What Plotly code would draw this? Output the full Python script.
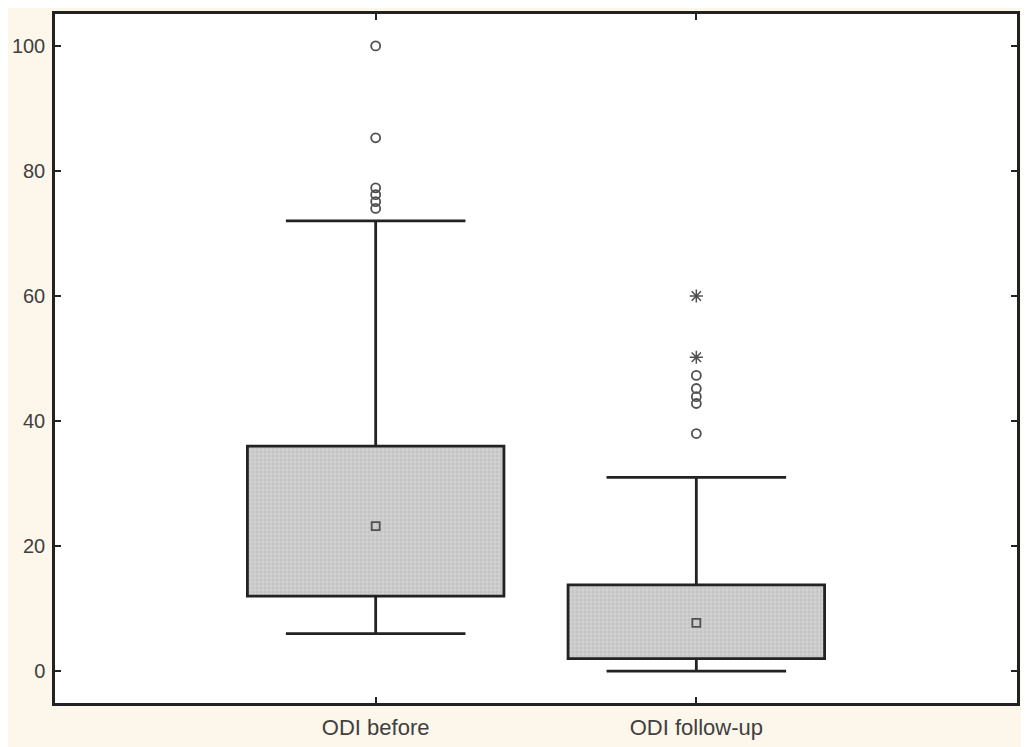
import plotly.graph_objects as go

categories = ["ODI before", "ODI follow-up"]
q1 = [12, 2]
median = [23.2, 7.7]
q3 = [36, 13.8]
lower_whisker = [6, 0]
upper_whisker = [72, 31]
outliers_before = [100, 85.3, 77.3, 76.2, 75.1, 74.0]
outliers_followup = [47.3, 45.2, 43.9, 42.8, 38.0]
extremes_followup = [60.0, 50.2]
y_ticks = [0, 20, 40, 60, 80, 100]

pos = [i + 1 for i in range(len(categories))]
cap_half = 0.28
line_col = "#222222"
font_fam = "Liberation Sans Narrow, Arial Narrow, Liberation Sans, Arial, sans-serif"

fig = go.Figure()

# boxes
fig.add_trace(go.Bar(
    x=pos, y=[b - a for a, b in zip(q1, q3)], base=q1, width=0.8,
    marker=dict(color="#d2d2d2",
                line=dict(color=line_col, width=2.8),
                pattern=dict(shape=".", bgcolor="#d0d0d0", fgcolor="#b8b8b8",
                             size=4, solidity=0.4)),
    showlegend=False, hoverinfo="skip"))

# whiskers
wx, wy = [], []
for p, a, b, lo, hi in zip(pos, q1, q3, lower_whisker, upper_whisker):
    wx += [p, p, None, p - cap_half, p + cap_half, None,
           p, p, None, p - cap_half, p + cap_half, None]
    wy += [b, hi, None, hi, hi, None,
           a, lo, None, lo, lo, None]
fig.add_trace(go.Scatter(x=wx, y=wy, mode="lines",
                         line=dict(color=line_col, width=2.8),
                         showlegend=False, hoverinfo="skip"))

# medians
fig.add_trace(go.Scatter(x=pos, y=median, mode="markers",
                         marker=dict(symbol="square-open", size=8, color="#505050",
                                     line=dict(width=1.8, color="#505050")),
                         showlegend=False))

# outliers
ox = [pos[0]] * len(outliers_before) + [pos[1]] * len(outliers_followup)
oy = outliers_before + outliers_followup
fig.add_trace(go.Scatter(x=ox, y=oy, mode="markers",
                         marker=dict(symbol="circle-open", size=9, color="#505050",
                                     line=dict(width=1.8, color="#505050")),
                         showlegend=False))

# extremes
fig.add_trace(go.Scatter(x=[pos[1]] * len(extremes_followup), y=extremes_followup,
                         mode="markers",
                         marker=dict(symbol="asterisk-open", size=11, color="#505050",
                                     line=dict(width=1.5, color="#505050")),
                         showlegend=False))

fig.update_layout(
    width=1021, height=739,
    margin=dict(l=47, r=12, t=6, b=44),
    paper_bgcolor="#fdf6ea", plot_bgcolor="#ffffff",
    font=dict(family=font_fam, size=22, color="#404040"),
    showlegend=False,
)
fig.update_xaxes(range=[0, 3], tickvals=pos, ticktext=categories, automargin=False,
                 ticks="inside", ticklen=6, tickwidth=1.5, tickcolor=line_col,
                 ticklabelstandoff=3, tickfont=dict(size=22),
                 showgrid=False, zeroline=False, showline=True, linecolor=line_col,
                 linewidth=2.5, mirror="ticks")
fig.update_yaxes(range=[-5.1, 105.1], tickvals=y_ticks, automargin=False,
                 ticks="inside", ticklen=6, tickwidth=1.5, tickcolor=line_col,
                 ticklabelstandoff=3, tickfont=dict(size=20),
                 showgrid=False, zeroline=False, showline=True, linecolor=line_col,
                 linewidth=2.5, mirror="ticks")

fig.write_html("out.html")
